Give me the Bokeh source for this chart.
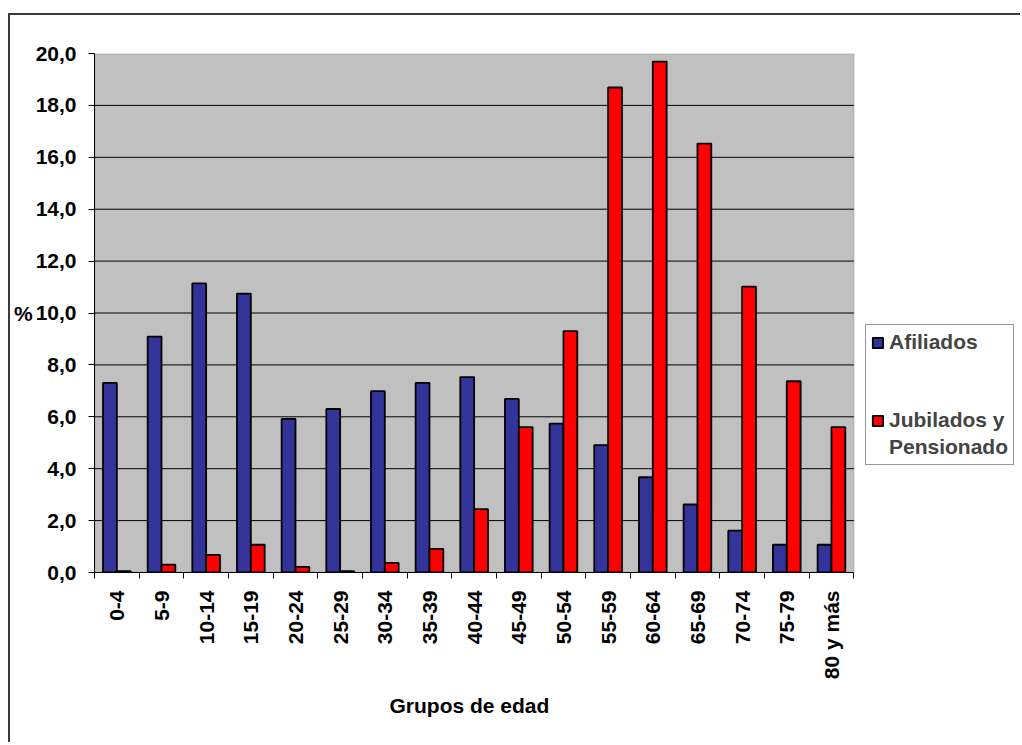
import math
from bokeh.plotting import figure
from bokeh.models import (Range1d, Legend, LegendItem, ColumnDataSource, FixedTicker,
                          BoxAnnotation, Title)
from bokeh.transform import dodge
from bokeh.embed import file_html
from bokeh.resources import INLINE

# ---- data ----
grupos = ["0-4", "5-9", "10-14", "15-19", "20-24", "25-29", "30-34", "35-39", "40-44",
          "45-49", "50-54", "55-59", "60-64", "65-69", "70-74", "75-79", "80 y más"]
afiliados = [7.31, 9.09, 11.14, 10.75, 5.92, 6.30, 6.99, 7.31, 7.53,
             6.69, 5.74, 4.91, 3.67, 2.62, 1.61, 1.07, 1.07]
jubilados = [0.05, 0.30, 0.68, 1.07, 0.22, 0.05, 0.37, 0.91, 2.44,
             5.60, 9.30, 18.69, 19.69, 16.53, 11.02, 7.37, 5.60]
y_ticks = [0, 2, 4, 6, 8, 10, 12, 14, 16, 18, 20]
y_tick_labels = ["0,0", "2,0", "4,0", "6,0", "8,0", "10,0", "12,0", "14,0", "16,0", "18,0", "20,0"]
series_names = ["Afiliados", "Jubilados y", "Pensionado"]
x_title = "Grupos de edad"
y_title = "%"

FONT = "Liberation Sans"

n = len(grupos)
centers = [i + 0.5 for i in range(n)]
edges = list(range(n + 1))
src = ColumnDataSource(dict(pos=centers, g=grupos, a=afiliados, j=jubilados))
grid_src = ColumnDataSource(dict(y=y_ticks[1:-1]))

# the frame extends right to hold the legend; the chart area is 0..n
x_end = n * 935 / 765
p = figure(x_range=Range1d(0, x_end), y_range=Range1d(0, 20),
           width=1012, height=729, output_backend="svg", toolbar_location=None,
           min_border_left=77, min_border_top=38,
           min_border_right=0, min_border_bottom=172)
p.styles = {"border-left": "2px solid #3a3a3a", "border-top": "2px solid #3a3a3a",
            "margin-top": "13px", "margin-left": "8px"}

p.background_fill_color = "white"
p.border_fill_color = "white"
p.outline_line_color = None

area = BoxAnnotation(left=0, right=n, bottom=0, top=20, fill_color="#C0C0C0", fill_alpha=1,
                     line_color="#808080", line_width=2, level="underlay")
p.add_layout(area)

p.xgrid.grid_line_color = None
p.ygrid.grid_line_color = None
p.segment(x0=0, x1=n, y0="y", y1="y", source=grid_src, line_color="black", line_width=1)

bw = 0.31
r1 = p.vbar(x=dodge("pos", -bw / 2), top="a", width=bw, source=src,
            fill_color="#333399", line_color="black", line_width=1.8)
r2 = p.vbar(x=dodge("pos", bw / 2), top="j", width=bw, source=src,
            fill_color="#FF0000", line_color="black", line_width=1.8)
# invisible renderer used only for legend spacing / second label line
blank = p.vbar(x=[], top=[], width=bw, fill_alpha=0, line_alpha=0)

# y axis
ya = p.yaxis[0]
ya.ticker = FixedTicker(ticks=y_ticks)
ya.major_label_overrides = {t: l for t, l in zip(y_ticks, y_tick_labels)}
ya.major_label_text_font = FONT
ya.major_label_text_font_style = "bold"
ya.major_label_text_font_size = "21px"
ya.major_label_text_color = "black"
ya.major_tick_out = 6
ya.major_tick_in = 0
ya.minor_tick_line_color = None
ya.major_label_standoff = 12
ya.axis_line_color = "black"
ya.axis_label = y_title
ya.axis_label_orientation = "horizontal"
ya.axis_label_text_font = FONT
ya.axis_label_text_font_style = "bold"
ya.axis_label_text_font_size = "21px"
ya.axis_label_text_color = "black"
ya.axis_label_standoff = 0

# x axis: labels at centres, ticks at category boundaries
xa = p.xaxis[0]
xa.bounds = (0, n)
xa.ticker = FixedTicker(ticks=centers, minor_ticks=edges)
xa.major_label_overrides = {c: g for c, g in zip(centers, grupos)}
xa.major_tick_line_color = None
xa.major_tick_out = 0
xa.major_tick_in = 0
xa.minor_tick_line_color = "black"
xa.minor_tick_out = 6
xa.minor_tick_in = 0
xa.axis_line_color = "black"
xa.major_label_orientation = math.pi / 2
xa.major_label_standoff = 12
xa.major_label_text_font = FONT
xa.major_label_text_font_style = "bold"
xa.major_label_text_font_size = "21px"
xa.major_label_text_color = "black"

# x-axis title centred under the chart area (not the wider frame)
xt = Title(text=x_title, align="left", offset=295, standoff=19,
           text_font=FONT, text_font_style="bold", text_font_size="21px", text_color="black")
p.add_layout(xt, "below")

legend = Legend(items=[LegendItem(label=series_names[0], renderers=[r1]),
                       LegendItem(label="\u200b\n\u200b", renderers=[blank]),
                       LegendItem(label=series_names[1], renderers=[r2]),
                       LegendItem(label=series_names[2], renderers=[blank])],
                location=(771, 107))
legend.label_text_font = FONT
legend.label_text_font_style = "bold"
legend.label_text_font_size = "21px"
legend.label_text_line_height = 1.3
legend.glyph_width = 13
legend.glyph_height = 13
legend.spacing = 3
legend.padding = 5
legend.margin = 0
legend.border_line_color = "#333333"
legend.border_line_width = 1
legend.background_fill_color = "white"
legend.background_fill_alpha = 1
p.add_layout(legend)

open("out.html", "w").write(file_html(p, INLINE))
